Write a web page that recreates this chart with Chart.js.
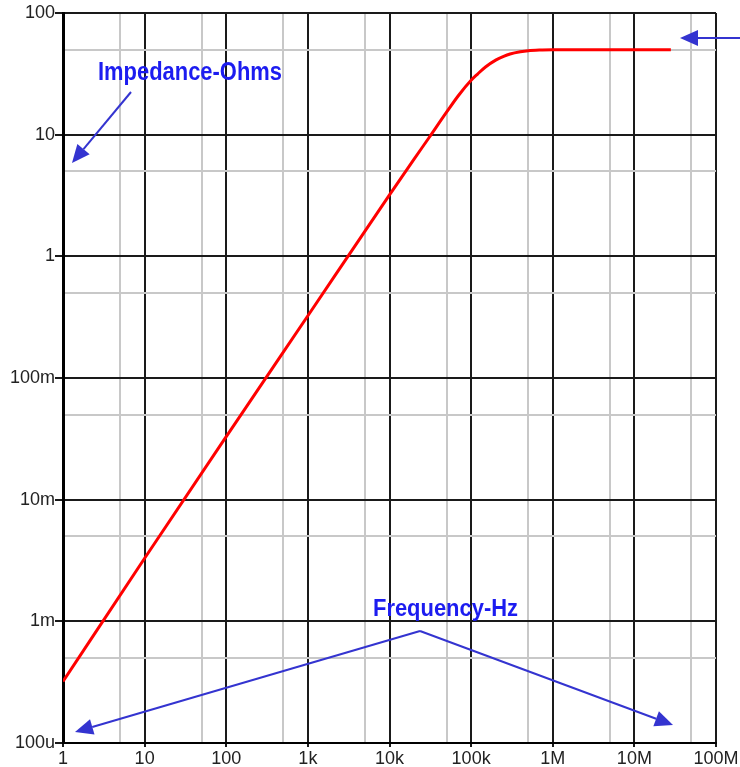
<!DOCTYPE html>
<html>
<head>
<meta charset="utf-8">
<script src="https://cdn.jsdelivr.net/npm/chart.js@4.4.1/dist/chart.umd.min.js"></script>
<style>
  html, body { margin: 0; padding: 0; background: #fff; }
  #wrap { width: 740px; height: 767px; }
</style>
</head>
<body>
<div id="wrap"><canvas id="zChart" width="740" height="767"></canvas></div>
<script>
// frequency sweep
const freqHz = [1, 10, 100, 1e3, 1e4, 2e4, 3e4, 5e4, 7e4, 1e5, 1.2e5, 1.5e5, 2e5, 2.5e5, 3e5, 4e5, 5e5, 7e5, 1e6, 1e7, 2.8e7];
const impedanceOhms = [3.2e-4, 3.3e-3, 3.3e-2, 0.325, 3.2, 6.3, 9.3, 15.3, 21, 28, 31.5, 36, 41, 44, 46, 48, 49, 49.6, 49.8, 50, 50];

const xTickLabels = ['1', '10', '100', '1k', '10k', '100k', '1M', '10M', '100M'];
const yTickLabels = ['100u', '1m', '10m', '100m', '1', '10', '100'];

const blue = '#3434d0';
const labelFont = "'Liberation Sans', Arial, sans-serif";

// decades + the grey 5x lines
function logTicks(minExp, maxExp) {
    const t = [];
    for (let e = minExp; e <= maxExp; e++) {
        t.push({ value: Math.pow(10, e) });
        if (e < maxExp) t.push({ value: 5 * Math.pow(10, e) });
    }
    return t;
}
function isDecade(v) {
    const l = Math.log10(v);
    return Math.abs(l - Math.round(l)) < 1e-6;
}

function arrow(ctx, x1, y1, x2, y2) {
    const ang = Math.atan2(y2 - y1, x2 - x1);
    const len = 18, half = 8;
    const bx = x2 - len * Math.cos(ang), by = y2 - len * Math.sin(ang);
    ctx.beginPath();
    ctx.moveTo(x1, y1);
    ctx.lineTo(bx, by);
    ctx.stroke();
    ctx.beginPath();
    ctx.moveTo(x2, y2);
    ctx.lineTo(bx + half * Math.sin(ang), by - half * Math.cos(ang));
    ctx.lineTo(bx - half * Math.sin(ang), by + half * Math.cos(ang));
    ctx.closePath();
    ctx.fill();
}

// the original uses a condensed bold face, squeeze text to that width
function narrowText(ctx, text, x, y, width) {
    const w = ctx.measureText(text).width;
    ctx.save();
    ctx.translate(x, y);
    ctx.scale(width / w, 1);
    ctx.fillText(text, 0, 0);
    ctx.restore();
}

// hand drawn notes on top of the plot
const notes = {
    id: 'notes',
    afterDraw(chart) {
        const ctx = chart.ctx;
        ctx.save();
        ctx.fillStyle = '#1c1cf0';
        ctx.textBaseline = 'alphabetic';
        ctx.font = 'bold 25px ' + labelFont;
        narrowText(ctx, 'Impedance-Ohms', 98, 80, 184);
        ctx.font = 'bold 24px ' + labelFont;
        narrowText(ctx, 'Frequency-Hz', 373, 616, 145);

        ctx.strokeStyle = blue;
        ctx.fillStyle = blue;
        ctx.lineWidth = 2;
        arrow(ctx, 131, 92, 72, 163);
        arrow(ctx, 420, 631, 75, 732);
        arrow(ctx, 420, 631, 673, 725);
        arrow(ctx, 740, 38, 680, 38);
        ctx.restore();
    }
};

const majorOrMinor = c => (c.tick && isDecade(c.tick.value)) ? '#1a1a1a' : '#c8c8c8';
const majorTickOnly = c => (c.tick && isDecade(c.tick.value)) ? '#1a1a1a' : 'rgba(0,0,0,0)';

new Chart(document.getElementById('zChart'), {
    type: 'line',
    data: {
        datasets: [{
            data: freqHz.map((f, i) => ({ x: f, y: impedanceOhms[i] })),
            borderColor: '#ff0000',
            borderWidth: 3,
            pointRadius: 0,
            cubicInterpolationMode: 'monotone',
            fill: false
        }]
    },
    options: {
        responsive: false,
        animation: false,
        layout: { padding: { top: 13, right: 24, left: 0, bottom: 0 } },
        plugins: {
            legend: { display: false },
            tooltip: { enabled: false }
        },
        scales: {
            x: {
                type: 'logarithmic',
                min: 1,
                max: 1e8,
                afterBuildTicks: s => { s.ticks = logTicks(0, 8); },
                afterFit: s => { s.height = 24; },
                grid: {
                    color: majorOrMinor,
                    lineWidth: 2,
                    drawTicks: true,
                    tickLength: 4,
                    tickColor: majorTickOnly
                },
                border: { color: '#000', width: 2 },
                ticks: {
                    autoSkip: false,
                    maxRotation: 0,
                    padding: 1,
                    color: '#222',
                    font: { family: labelFont, size: 18 },
                    callback: v => isDecade(v) ? xTickLabels[Math.round(Math.log10(v))] : ''
                }
            },
            y: {
                type: 'logarithmic',
                min: 1e-4,
                max: 100,
                afterBuildTicks: s => { s.ticks = logTicks(-4, 2); },
                afterFit: s => { s.width = 63; },
                grid: {
                    color: majorOrMinor,
                    lineWidth: 2,
                    drawTicks: true,
                    tickLength: 8,
                    tickColor: majorTickOnly
                },
                border: { color: '#000', width: 3 },
                ticks: {
                    autoSkip: false,
                    padding: 0,
                    color: '#222',
                    font: { family: labelFont, size: 18 },
                    callback: v => isDecade(v) ? yTickLabels[Math.round(Math.log10(v)) + 4] : ''
                }
            }
        }
    },
    plugins: [notes]
});
</script>
</body>
</html>
